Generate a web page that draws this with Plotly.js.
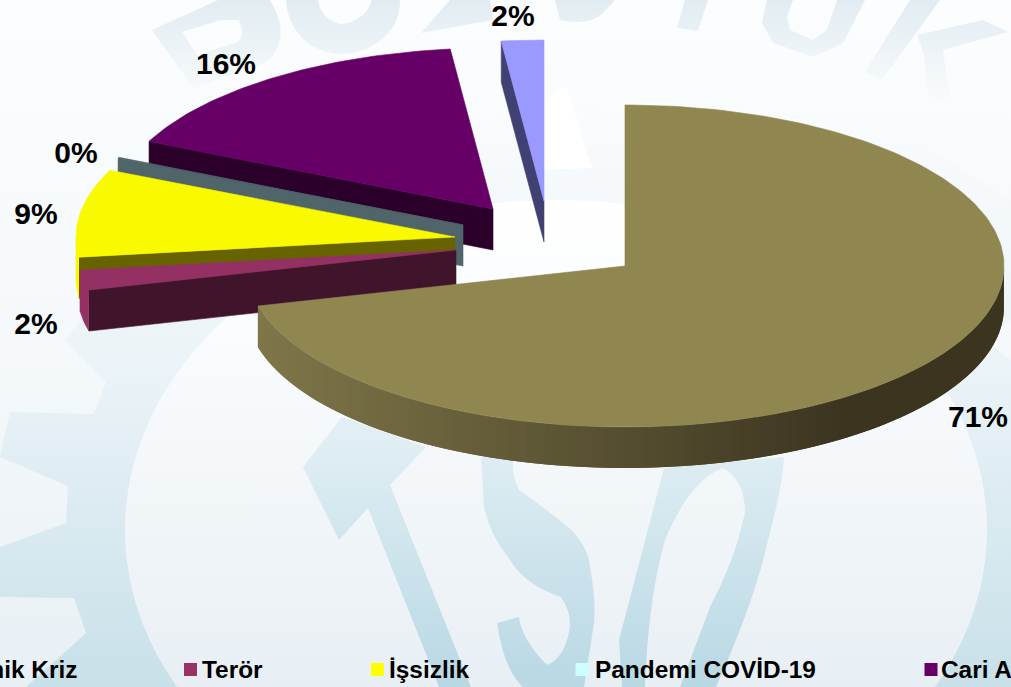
<!DOCTYPE html>
<html><head><meta charset="utf-8">
<script src="https://cdn.plot.ly/plotly-3.0.1.min.js"></script>
<style>html,body{margin:0;padding:0;background:#fff;overflow:hidden}#c{width:1011px;height:687px}</style>
</head><body><div id="c"></div>
<script>
// ---- data ----
const categories = ["Ekonomik Kriz", "Terör", "İşsizlik", "Pandemi COVİD-19", "Cari Açık", "Diğer"];
const shares = [71, 2, 8.8, 0.1, 16.3, 1.8];

// ---- styles and layout (separate from the data) ----
const topColors  = ["#8F8650", "#953064", "#F9F900", "#50656A", "#660066", "#9999FF"];
const edgeColors = ["#8F8650", "#40152B", "#666300", "#50656A", "#2B002B", "#404072"];
const rimColors  = ["#7F7649", "#953064", "#F9F900", "#50656A", "#2B002B", "#404072"];
const legendColors = ["#993366", "#FFFF00", "#CCFFFF", "#660066"];
const sliceCentersX = [625, 456, 455, 463, 493, 544];
const sliceCentersY = [266, 250, 237, 225, 209, 201];
const radiusX = 379, radiusY = 161, depth = 41;
const labelX = [978, 36, 36, 76, 226, 513];
const labelY = [419, 326, 216, 155, 66, 18];
const legendTextX = [-93, 201, 388, 594, 940];
const legendMarkX = [190.5, 377.5, 582, 931];
const legendMarkY = 669.5;
const legendTextY = 669;

// ---- watermark (decoration only) ----
const watermark = `<svg xmlns="http://www.w3.org/2000/svg" width="1011" height="687" viewBox="0 0 1011 687">
<defs>
<linearGradient id="bg" x1="0" y1="0" x2="0" y2="1"><stop offset="0" stop-color="#FBFDFE"/><stop offset=".5" stop-color="#F5F9FB"/><stop offset="1" stop-color="#E8F0F5"/></linearGradient>
<linearGradient id="ring" gradientUnits="userSpaceOnUse" x1="0" y1="120" x2="0" y2="687"><stop offset="0" stop-color="#F9FBFD"/><stop offset=".45" stop-color="#EAF3F7"/><stop offset="1" stop-color="#C8E0E9"/></linearGradient>
<linearGradient id="inner" gradientUnits="userSpaceOnUse" x1="0" y1="200" x2="0" y2="687"><stop offset="0" stop-color="#FFFFFF"/><stop offset=".4" stop-color="#F7FAFC"/><stop offset="1" stop-color="#E8EFF4"/></linearGradient>
<linearGradient id="tso" gradientUnits="userSpaceOnUse" x1="0" y1="440" x2="0" y2="687"><stop offset="0" stop-color="#E1EEF4"/><stop offset="1" stop-color="#B8D8E4"/></linearGradient>
<linearGradient id="top" gradientUnits="userSpaceOnUse" x1="0" y1="0" x2="0" y2="105"><stop offset="0" stop-color="#E1ECF2"/><stop offset="1" stop-color="#FAFCFD"/></linearGradient>
</defs>
<rect width="1011" height="687" fill="url(#bg)"/>
<path fill="url(#ring)" d="M200 170 L65 340 L106 382 L94 414 L10 412 L0 457 L68 486 L66 523 L0 547 L0 597 L74 598 L86 633 L26 687 L1011 687 L1011 360 L985 340 L1011 320 L1011 200 L900 130 L560 100 Z"/>
<ellipse cx="556" cy="530" rx="431" ry="330" fill="url(#inner)"/>
<path fill="#FFFFFF" d="M540 105 L566 85 L592 168 L530 170 Z"/>
<g fill="url(#tso)">
<path d="M342 417 L303 467 L339 540 L368 508 L439 687 L471 687 L390 485 L426 447 Z"/>
<path d="M481 457 L513 457 Q512 478 519 490 Q545 508 568 527 Q588 545 590 567 Q596 600 594 623 L584 687 L523 687 Q504 670 497 623 L519 617 Q522 640 547 665 Q565 658 570 627 Q571 612 561 597 Q525 585 510 560 Q490 535 484 507 Z"/>
<path fill-rule="evenodd" d="M664 468 Q640 560 619 640 L622 687 L716 687 Q755 600 768 540 Q782 490 784 457 Z M723 468 Q745 480 745 513 Q735 560 710 607 L680 687 L645 687 Q648 600 665 540 Q690 480 723 468 Z"/>
</g>
<g fill="url(#top)">
<path fill-rule="evenodd" d="M152 30 L218 0 L270 0 Q285 25 279 43 Q275 58 264 63 L193 88 Z M182 32 L197 55 L238 42 Q246 32 238 20 L221 20 Z"/>
<path fill-rule="evenodd" d="M286 0 H400 Q400 30 372 46 Q343 62 312 46 Q288 30 286 0 Z M318 0 Q320 18 340 24 Q365 22 372 0 Z"/>
<path d="M421 33 L493 20 L490 0 L450 0 Z"/>
<path d="M560 20 Q590 26 603 13 L615 0 L555 0 Z"/>
<path d="M677 28 L698 31 L708 0 L685 0 Z"/>
<path d="M762 23 L773 43 L813 57 L843 43 L860 10 L865 0 L837 0 L827 30 L813 40 L790 30 L787 17 L793 0 L767 0 Z"/>
<path d="M865 72 L882 80 L940 0 L910 0 Z"/>
<path d="M917 35 L983 20 L1008 32 L943 50 L952 110 L928 97 L924 55 Z"/>
</g>
</svg>`;

// ---- geometry: every slice is derived from the shares ----
const total = shares.reduce((a, b) => a + b, 0);
const pt = (cx, cy, deg, dy = 0) => {
  const r = deg * Math.PI / 180;
  return [cx + radiusX * Math.sin(r), cy - radiusY * Math.cos(r) + dy];
};
const arc = (cx, cy, a, b, dy = 0) => {
  const n = Math.max(2, Math.ceil(Math.abs(b - a)));
  const out = [];
  for (let i = 0; i <= n; i++) out.push(pt(cx, cy, a + (b - a) * i / n, dy));
  return out;
};
const poly = (pts, color, name, w = 0.6) => ({
  type: "scatter", mode: "lines", x: pts.map(p => p[0]), y: pts.map(p => p[1]),
  fill: "toself", fillcolor: color, line: { color: color, width: w },
  hoverinfo: "text", text: name, showlegend: false
});
const mix = (a, b, t) => {
  const h = c => [1, 3, 5].map(i => parseInt(c.substr(i, 2), 16));
  const A = h(a), B = h(b);
  return "rgb(" + A.map((v, i) => Math.round(v + (B[i] - v) * t)).join(",") + ")";
};

const spans = [];
let acc = 0;
shares.forEach(v => { spans.push([acc, acc + v / total * 360]); acc += v / total * 360; });

const sliceTraces = i => {
  const [a, b] = spans[i], cx = sliceCentersX[i], cy = sliceCentersY[i], name = categories[i];
  const out = [];
  const apex = [cx, cy], s = pt(cx, cy, a);
  // radial wall under the starting edge
  if (i > 0) out.push(poly([apex, s, [s[0], s[1] + depth], [cx, cy + depth], apex], edgeColors[i], name));
  // outer rim: only the part that faces the viewer (90 to 270 degrees)
  const lo = Math.max(a, 90), hi = Math.min(b, 270);
  if (hi > lo) {
    if (i === 0) {
      const step = 1.5, overlap = 1.5;
      for (let d = lo; d < hi; d += step) {
        const e = Math.min(d + step + overlap, hi);
        const px = pt(cx, cy, d + step / 2)[0];
        const t = Math.min(1, Math.max(0, (px - 258) / 590));
        const q = arc(cx, cy, d, e).concat(arc(cx, cy, e, d, depth));
        out.push(poly(q, mix(rimColors[0], "#3B3520", t), name, 0));
      }
    } else {
      out.push(poly(arc(cx, cy, lo, hi).concat(arc(cx, cy, hi, lo, depth)), rimColors[i], name));
    }
  }
  // top face
  out.push(poly([apex].concat(arc(cx, cy, a, b)).concat([apex]), topColors[i], name));
  return out;
};

const traces = [];
[5, 4, 3, 2, 1, 0].forEach(i => traces.push(...sliceTraces(i)));

// percentage labels
traces.push({
  type: "scatter", mode: "text", x: labelX, y: labelY,
  text: shares.map(v => Math.round(v) + "%"), textposition: "middle center",
  textfont: { family: "Liberation Sans", size: 30, color: "#000", weight: 700 },
  hoverinfo: "skip", showlegend: false, cliponaxis: false
});
// legend row, cut by the page edges like the reference
traces.push({
  type: "scatter", mode: "markers", x: legendMarkX, y: legendMarkX.map(() => legendMarkY),
  marker: { symbol: "square", size: 13, color: legendColors, line: { width: 0 } },
  hoverinfo: "skip", showlegend: false
});
const legendText = categories.slice(0, 5).map((c, i) => ({
  text: c, xref: "paper", yref: "y", x: legendTextX[i] / 1011, y: legendTextY,
  xanchor: "left", yanchor: "middle", showarrow: false, borderpad: 0,
  font: { family: "Liberation Sans", size: 24.4, color: "#000", weight: 700 }
}));

const hidden = { visible: false, fixedrange: true };
Plotly.newPlot("c", traces, {
  width: 1011, height: 687, margin: { l: 0, r: 0, t: 0, b: 0 },
  paper_bgcolor: "rgba(0,0,0,0)", plot_bgcolor: "rgba(0,0,0,0)", showlegend: false,
  xaxis: { ...hidden, range: [0, 1011] },
  yaxis: { ...hidden, range: [687, 0] },
  annotations: legendText,
  images: [{
    source: "data:image/svg+xml;charset=utf-8," + encodeURIComponent(watermark),
    xref: "paper", yref: "paper", x: 0, y: 1, sizex: 1, sizey: 1,
    xanchor: "left", yanchor: "top", sizing: "stretch", layer: "below"
  }]
}, { displayModeBar: false, staticPlot: true });
</script></body></html>
